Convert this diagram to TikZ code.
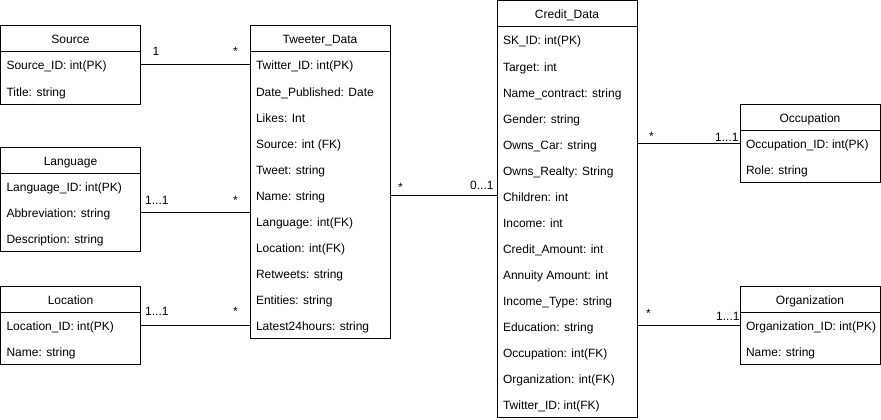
\documentclass[tikz,border=0pt]{standalone}
\usepackage{fontspec}
\setmainfont{Liberation Sans}
\usetikzlibrary{calc}
\tikzset{
  enthead/.style={draw=black, line width=1pt, minimum height=26pt, inner sep=0pt, outer sep=0pt, text height=12pt, text depth=2pt, font=\fontsize{12}{14}\selectfont},
  entrow/.style={anchor=west, minimum height=26pt, inner xsep=6pt, inner ysep=0pt, outer sep=0pt, text height=12pt, text depth=2pt, font=\fontsize{12}{14}\selectfont},
  entframe/.style={draw=black, line width=1pt},
  conn/.style={draw=black, line width=1pt},
  lab/.style={anchor=base west, inner sep=0pt, font=\fontsize{12}{14}\selectfont}
}
\newcommand{\erent}[6]{%
  \node[enthead, minimum width=#4pt] (#1) at ({#2+#4/2},{#3+13}) {#5};
  \foreach \r [count=\i] in {#6} {
    \node[entrow] (#1-\i) at ({#2},{#3+13+26*\i}) {\r};
    \xdef\lastrow{\i}
  }
  \draw[entframe] (#1.north west) rectangle ($(#1.south east)+(0,26*\lastrow)$);
}
\begin{document}
\begin{tikzpicture}[x=1pt,y=-1pt]
\useasboundingbox (0,0) rectangle (881,420);

\erent{src}{0.5}{26}{140}{Source}{Source\_ID: int(PK),Title: string}
\erent{lang}{0.5}{147}{140}{Language}{Language\_ID: int(PK),Abbreviation: string,Description: string}
\erent{loc}{0.5}{286}{140}{Location}{Location\_ID: int(PK),Name: string}
\erent{tw}{250}{26}{140}{Tweeter\_Data}{Twitter\_ID: int(PK),Date\_Published: Date,Likes: Int,Source: int (FK),Tweet: string,Name: string,Language: int(FK),Location: int(FK),Retweets: string,Entities: string,Latest24hours: string}
\erent{cd}{497}{1}{140}{Credit\_Data}{SK\_ID: int(PK),Target: int,Name\_contract: string,Gender: string,Owns\_Car: string,Owns\_Realty: String,Children: int,Income: int,Credit\_Amount: int,Annuity Amount: int,Income\_Type: string,Education: string,Occupation: int(FK),Organization: int(FK),Twitter\_ID: int(FK)}
\erent{occ}{740}{104}{140}{Occupation}{Occupation\_ID: int(PK),Role: string}
\erent{org}{740}{286}{140}{Organization}{Organization\_ID: int(PK),Name: string}

% connectors
\draw[conn] (src-1 -| src.east) -- (src-1 -| tw.west);
\draw[conn] (lang-2 -| lang.east) -- (lang-2 -| tw.west);
\draw[conn] (loc-1 -| loc.east) -- (loc-1 -| tw.west);
\draw[conn] (tw-6 -| tw.east) -- (tw-6 -| cd.west);
\draw[conn] (occ-1 -| cd.east) -- (occ-1 -| occ.west);
\draw[conn] (org-1 -| cd.east) -- (org-1 -| org.west);

% multiplicity labels
\node[lab] (l1a) at (152.5,56) {1};
\node[lab] (l1b) at (233,56) {*};
\node[lab] (l2a) at (145,204) {1...1};
\node[lab] (l2b) at (233,204) {*};
\node[lab] (l3a) at (145,315) {1...1};
\node[lab] (l3b) at (233,315) {*};
\node[lab] (l4a) at (398,191) {*};
\node[lab] (l4b) at (470,189) {0...1};
\node[lab] (l5a) at (649,140) {*};
\node[lab] (l5b) at (715,141) {1...1};
\node[lab] (l6a) at (646,317) {*};
\node[lab] (l6b) at (716,320) {1...1};
\end{tikzpicture}
\end{document}
